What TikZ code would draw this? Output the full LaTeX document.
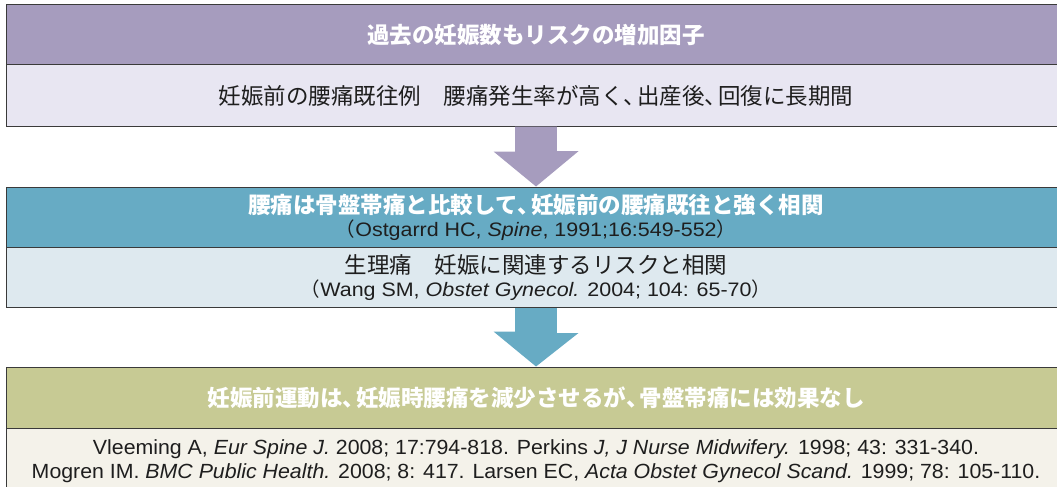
\documentclass[tikz,border=0pt]{standalone}
\usepackage{fontspec}
\setmainfont{Noto Sans CJK JP}[AutoFakeSlant=0.2]
\newfontfamily\latc{Liberation Sans}[FakeStretch=1.1]
\newfontfamily\latw{Liberation Sans}[FakeStretch=1.04]
\newcommand\tcomma{\makebox[0.6em][l]{、}}
\usetikzlibrary{calc}
\definecolor{purpH}{HTML}{A69CBE}
\definecolor{purpB}{HTML}{E8E6F2}
\definecolor{tealH}{HTML}{67ABC4}
\definecolor{tealB}{HTML}{DEE9EF}
\definecolor{oliveH}{HTML}{C7CA94}
\definecolor{oliveB}{HTML}{F4F2EA}
\definecolor{txt}{HTML}{1E1E1E}
\definecolor{edge}{HTML}{3A3A3A}
\begin{document}
\begin{tikzpicture}[x=1pt,y=-1pt,
  panel/.style={draw=edge, line width=1pt, minimum width=1060pt, inner sep=0pt,
    align=center, anchor=center},
  hdr/.style={panel, text=white, font=\fontsize{22.5}{25}\selectfont\bfseries},
  bdy/.style={panel, text=txt, font=\fontsize{22.5}{25}\selectfont}
]
\useasboundingbox (0,0) rectangle (1057,487);
\node[hdr, fill=purpH, minimum height=61pt] (h1) at (536,34.75) {過去の妊娠数もリスクの増加因子};
\node[bdy, fill=purpB, minimum height=61pt] (b1) at (536,95.5) {妊娠前の腰痛既往例　腰痛発生率が高く\tcomma 出産後\tcomma 回復に長期間};
\node[hdr, fill=tealH, minimum height=61pt] (h2) at (536,217.5) {腰痛は骨盤帯痛と比較して\tcomma 妊娠前の腰痛既往と強く相関\\[-2pt]
  {\color{txt}\fontsize{19.5}{22}\selectfont\mdseries（{\latc Ostgarrd HC, \textit{Spine}, 1991;16:549-552}）}};
\node[bdy, fill=tealB, minimum height=60pt] (b2) at (536,277.5) {生理痛　妊娠に関連するリスクと相関\\[-2pt]
  {\fontsize{19.5}{22}\selectfont（{\latc Wang SM, \textit{Obstet Gynecol.} 2004; 104: 65-70}）}};
\node[hdr, fill=oliveH, minimum height=61pt] (h3) at (536,397.5) {妊娠前運動は\tcomma 妊娠時腰痛を減少させるが\tcomma 骨盤帯痛には効果なし};
\node[bdy, fill=oliveB, minimum height=67pt, font=\latw\fontsize{20.5}{24}\selectfont] (b3) at (536,461.5) {Vleeming A, \textit{Eur Spine J.} 2008; 17:794-818. Perkins \textit{J, J Nurse Midwifery.} 1998; 43: 331-340.\\
  Mogren IM. \textit{BMC Public Health.} 2008; 8: 417. Larsen EC, \textit{Acta Obstet Gynecol Scand.} 1999; 78: 105-110.};
% arrows
\fill[purpH] (b1.south) ++(-20.8,0) -- ++(41.6,0) -- ++(0,24.7) -- ++(21.7,0) -- (h2.north) -- ++(-42.5,-35) -- ++(21.7,0) -- cycle;
\fill[tealH] (b2.south) ++(-20.8,0) -- ++(41.6,0) -- ++(0,25) -- ++(21.7,0) -- (h3.north) -- ++(-42.5,-35) -- ++(21.7,0) -- cycle;
\end{tikzpicture}
\end{document}
